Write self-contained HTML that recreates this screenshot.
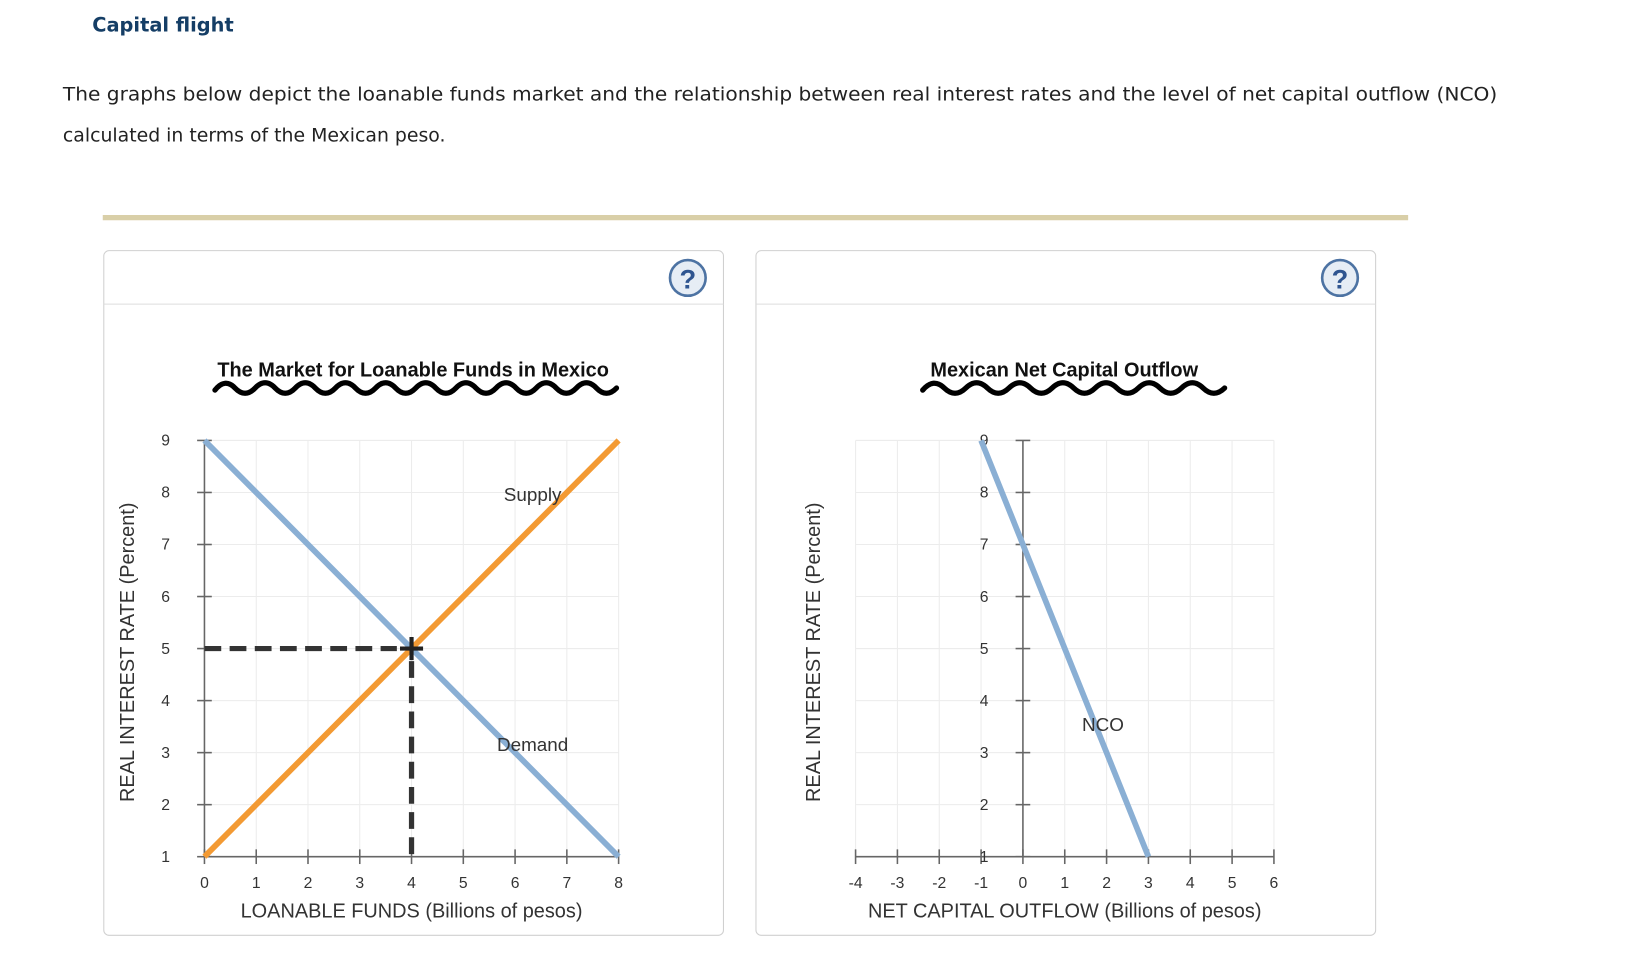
<!DOCTYPE html>
<html><head><meta charset="utf-8"><style>
html,body{margin:0;padding:0;background:#fff;}
svg{display:block;}
</style></head><body>
<svg id="page" width="1643" height="970" viewBox="0 0 1567 925" xmlns="http://www.w3.org/2000/svg">
<text x="88" y="30" font-family="DejaVu Sans, sans-serif" font-weight="bold" font-size="18.5" fill="#153e66">Capital flight</text>
<text x="60" y="96" font-family="DejaVu Sans, sans-serif" font-size="18" fill="#222" textLength="1368" lengthAdjust="spacingAndGlyphs">The graphs below depict the loanable funds market and the relationship between real interest rates and the level of net capital outflow (NCO)</text>
<text x="60" y="135" font-family="DejaVu Sans, sans-serif" font-size="18" fill="#222">calculated in terms of the Mexican peso.</text>
<rect x="98" y="205" width="1245" height="5" fill="#d9cfa8"/>
<g id="charts"></g>
</svg>
<script>
// Loanable funds data
const lfXTicks = [0,1,2,3,4,5,6,7,8];
const yTicks = [1,2,3,4,5,6,7,8,9];
const supplyX = [0,8];
const supplyY = [1,9];
const demandX = [0,8];
const demandY = [9,1];
const eqX = [4];
const eqY = [5];
// NCO data
const ncoXTicks = [-4,-3,-2,-1,0,1,2,3,4,5,6];
const ncoX = [-1,3];
const ncoY = [9,1];

const NS='http://www.w3.org/2000/svg';
const root=document.getElementById('charts');
function mk(tag,attrs,parent){const e=document.createElementNS(NS,tag);for(const k in attrs)e.setAttribute(k,attrs[k]);(parent||root).appendChild(e);return e;}
const FONT='Liberation Sans, Arial, sans-serif';

function panel(x0,name){
  const g=mk('g',{});
  
  
  const r=mk('rect',{x:x0,y:239,width:591,height:653,rx:5,fill:'#fff',stroke:'#d0d0d0','stroke-width':1},g);
  
  
  mk('line',{x1:x0,x2:x0+591,y1:290,y2:290,stroke:'#ddd'},g);
  const h=mk('g',{},g);
  
  
  mk('circle',{cx:x0+557,cy:265,r:17,fill:'#e6edf5',stroke:'#4d73a3','stroke-width':2.5},h);
  const t=mk('text',{x:x0+557,y:275,'text-anchor':'middle','font-family':FONT,'font-weight':'bold','font-size':26,fill:'#2f5590'},h);
  t.textContent='?';
  return g;
}

function wave(x1,x2,y,g){
  let d='M'+x1+' '+(y+2); const n=Math.round((x2-x1)/40);const w=(x2-x1)/n;
  for(let i=0;i<n;i++){const a=x1+i*w;d+=' Q'+(a+w/4)+' '+(y-10)+' '+(a+w/2)+' '+y+' T'+(a+w)+' '+y;}
  const p=mk('path',{d:d,fill:'none',stroke:'#000','stroke-width':5,'stroke-linecap':'round'},g);
  
  
}

function chart(opts){
  const g=panel(opts.px,opts.name);
  const {xmin,xmax,L,R,T,B,axisX}=opts;
  const sx=v=>L+(v-xmin)/(xmax-xmin)*(R-L);
  const sy=v=>B-(v-1)/8*(B-T);
  const tt=mk('text',{x:opts.tcx,y:359,'text-anchor':'middle','font-family':FONT,'font-weight':'bold','font-size':19,fill:'#111'},g);
  tt.textContent=opts.title;
  
  
  wave(opts.wx1,opts.wx2,370,g);
  opts.xt.forEach(v=>mk('line',{x1:sx(v),x2:sx(v),y1:T,y2:B,stroke:'#ececec'},g));
  yTicks.forEach(v=>mk('line',{x1:L,x2:R,y1:sy(v),y2:sy(v),stroke:'#ececec'},g));
  const ax=sx(axisX);
  const xa=mk('line',{x1:L,x2:R,y1:B,y2:B,stroke:'#666','stroke-width':1.5},g);
  
  
  const ya=mk('line',{x1:ax,x2:ax,y1:T,y2:B,stroke:'#666','stroke-width':1.5},g);
  
  
  opts.xt.forEach(v=>{
    mk('line',{x1:sx(v),x2:sx(v),y1:B-7,y2:B+7,stroke:'#666','stroke-width':1.5},g);
    const t=mk('text',{x:sx(v),y:B+30,'text-anchor':'middle','font-family':FONT,'font-size':15,fill:'#333'},g);
    t.textContent=v;
    
    
  });
  yTicks.forEach(v=>{
    mk('line',{x1:ax-7,x2:ax+7,y1:sy(v),y2:sy(v),stroke:'#666','stroke-width':1.5},g);
    const t=mk('text',{x:ax-37,y:sy(v)+5,'text-anchor':'middle','font-family':FONT,'font-size':15,fill:'#333'},g);
    t.textContent=v;
    
    
  });
  const xt=mk('text',{x:(L+R)/2,y:875,'text-anchor':'middle','font-family':FONT,'font-size':19,fill:'#333'},g);
  xt.textContent=opts.xtitle;
  
  
  const yt=mk('text',{x:0,y:0,'text-anchor':'middle','font-family':FONT,'font-size':19,fill:'#333',transform:'translate('+opts.ytx+',622) rotate(-90)'},g);
  yt.textContent='REAL INTEREST RATE (Percent)';
  
  
  return {g,sx,sy};
}

function series(c,xs,ys,color,name,label,lx,ly){
  const l=mk('line',{x1:c.sx(xs[0]),y1:c.sy(ys[0]),x2:c.sx(xs[1]),y2:c.sy(ys[1]),stroke:color,'stroke-width':5.5},c.g);
  
  
  const t=mk('text',{x:lx,y:ly,'text-anchor':'middle','font-family':FONT,'font-size':18,fill:'#333'},c.g);
  t.textContent=label;
  
  
}

const c1=chart({px:99,ytx:128,name:'loanable-funds-panel',xmin:0,xmax:8,L:195,R:590,T:420,B:817,axisX:0,xt:lfXTicks,
  title:'The Market for Loanable Funds in Mexico',tcx:394,wx1:205,wx2:588,xtitle:'LOANABLE FUNDS (Billions of pesos)'});
series(c1,supplyX,supplyY,'#f39a33','supply-curve','Supply',508,478);
series(c1,demandX,demandY,'#8aafd4','demand-curve','Demand',508,716);
const ex=c1.sx(eqX[0]),ey=c1.sy(eqY[0]);
const hl=mk('line',{x1:c1.sx(0),x2:ex-14,y1:ey,y2:ey,stroke:'#333','stroke-width':5,'stroke-dasharray':'16 8'},c1.g);


const vl=mk('line',{x1:ex,x2:ex,y1:ey+12,y2:c1.sy(1),stroke:'#333','stroke-width':5,'stroke-dasharray':'16 8'},c1.g);


const eq=mk('path',{d:'M'+(ex-11)+' '+ey+' H'+(ex+11)+' M'+ex+' '+(ey-11)+' V'+(ey+11),stroke:'#222','stroke-width':4},c1.g);



const c2=chart({px:721,ytx:782,name:'nco-panel',xmin:-4,xmax:6,L:816,R:1215,T:420,B:817,axisX:0,xt:ncoXTicks,
  title:'Mexican Net Capital Outflow',tcx:1015,wx1:880,wx2:1168,xtitle:'NET CAPITAL OUTFLOW (Billions of pesos)'});
series(c2,ncoX,ncoY,'#8aafd4','nco-curve','NCO',1052,697);
</script>
</body></html>
